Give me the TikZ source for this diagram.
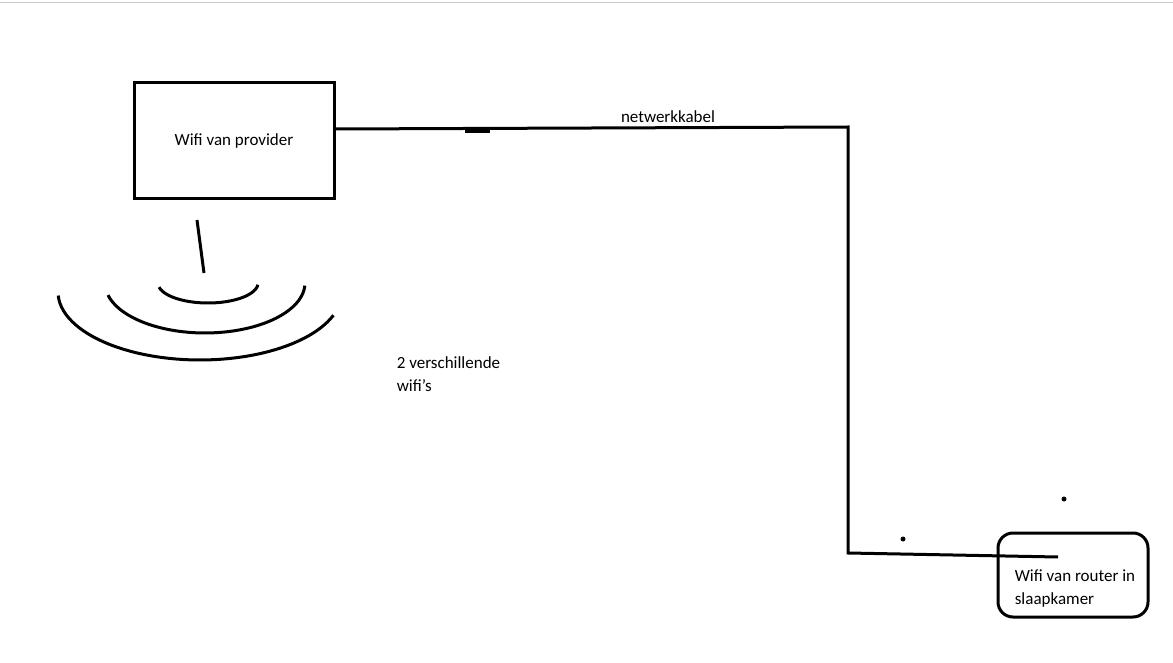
\documentclass[tikz,border=0pt]{standalone}
\usepackage{fontspec}
\setmainfont{Carlito}
\usetikzlibrary{calc}

\begin{document}
\begin{tikzpicture}[x=1pt,y=-1pt,line width=3pt,
  lbl/.style={font=\fontsize{17}{23}\selectfont,align=left}]
\useasboundingbox (0,0) rectangle (1173,663);
\draw[line width=0.6pt,gray!40] (0,2) -- (1173,2);

% provider
\node[draw,minimum width=200,minimum height=116,lbl] (prov) at (234,141) {Wifi van provider};
\draw (197,220) -- (204,273);
\draw plot[domain=5:168,samples=40] ({208+50*cos(\x)},{283+20*sin(\x)});
\draw plot[domain=3:166,samples=40] ({205+100*cos(\x)},{283+50*sin(\x)});
\draw plot[domain=20:177,samples=50] ({200+142*cos(\x)},{292+68*sin(\x)});

% cable
\coordinate (c1) at (848,127);
\coordinate (c2) at (848,553);
\coordinate (c3) at (1058,557);
\draw (prov.east |- 0,129) -- (c1) -- (c2) -- (c3);
\draw (465,131.5) -- (490,131.5);
\node[lbl] (kabel) at (668,117) {netwerkkabel};

% router
\node[draw,rounded corners=15,minimum width=150,minimum height=84] (router) at (1073,575) {};
\node[lbl,anchor=west] (rlbl) at (1010,588) {Wifi van router in\\slaapkamer};
\fill (903,539) circle (2.5);
\fill (1064,499) circle (2.5);

\node[lbl,anchor=west] (wifis) at (392,374) {2 verschillende\\wifi's};
\end{tikzpicture}
\end{document}
